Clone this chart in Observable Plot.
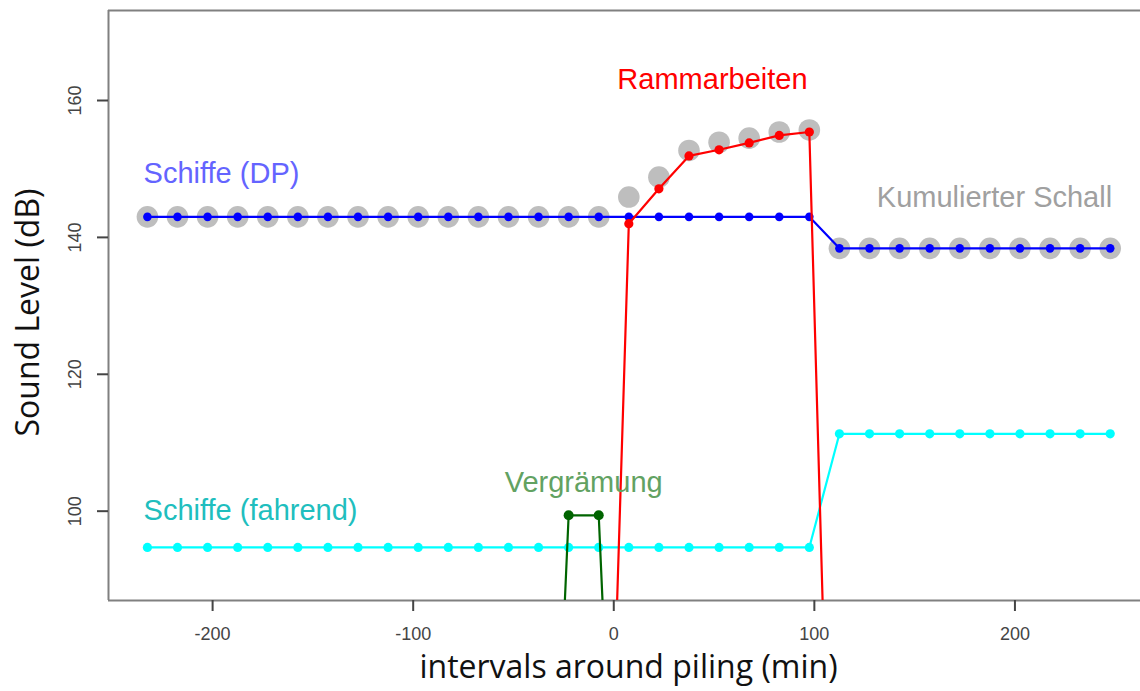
<!DOCTYPE html>
<html>
<head>
<meta charset="utf-8">
<script src="https://cdn.jsdelivr.net/npm/d3@7"></script>
<script src="https://cdn.jsdelivr.net/npm/@observablehq/plot@0.6"></script>
<style>
  html, body { margin: 0; padding: 0; background: #fff; }
  #chart svg { display: block; }
</style>
</head>
<body>
<div id="chart"></div>
<script>
// ---- data ----
const minutes = [-232.5, -217.5, -202.5, -187.5, -172.5, -157.5, -142.5, -127.5, -112.5, -97.5,
  -82.5, -67.5, -52.5, -37.5, -22.5, -7.5, 7.5, 22.5, 37.5, 52.5, 67.5, 82.5, 97.5,
  112.5, 127.5, 142.5, 157.5, 172.5, 187.5, 202.5, 217.5, 232.5, 247.5];

const dpLevel = [143, 143, 143, 143, 143, 143, 143, 143, 143, 143,
  143, 143, 143, 143, 143, 143, 143, 143, 143, 143, 143, 143, 143,
  138.4, 138.4, 138.4, 138.4, 138.4, 138.4, 138.4, 138.4, 138.4, 138.4];

const movingLevel = [94.7, 94.7, 94.7, 94.7, 94.7, 94.7, 94.7, 94.7, 94.7, 94.7,
  94.7, 94.7, 94.7, 94.7, 94.7, 94.7, 94.7, 94.7, 94.7, 94.7, 94.7, 94.7, 94.7,
  111.3, 111.3, 111.3, 111.3, 111.3, 111.3, 111.3, 111.3, 111.3, 111.3];

const cumulativeLevel = [143, 143, 143, 143, 143, 143, 143, 143, 143, 143,
  143, 143, 143, 143, 143, 143, 145.9, 148.8, 152.7, 153.9, 154.5, 155.4, 155.7,
  138.4, 138.4, 138.4, 138.4, 138.4, 138.4, 138.4, 138.4, 138.4, 138.4];

const pilingMinutes = [-7.5, 7.5, 22.5, 37.5, 52.5, 67.5, 82.5, 97.5, 112.5];
const pilingLevel   = [0, 142, 147.1, 151.9, 152.8, 153.8, 154.9, 155.4, 0];

const deterMinutes = [-37.5, -22.5, -7.5, 7.5];
const deterLevel   = [0, 99.4, 99.4, 0];

const labelText   = ["Schiffe (DP)", "Schiffe (fahrend)", "Vergrämung", "Rammarbeiten", "Kumulierter Schall"];
const labelMinute = [-234.4, -234.4, -15, 49.2, 189.8];
const labelLevel  = [149.3, 100.0, 104.1, 163.1, 145.8];
const labelAnchor = ["start", "start", "middle", "middle", "middle"];
const labelColor  = ["#6464FF", "#20BEBE", "#62A262", "#FF0000", "#A0A0A0"];

const xTicks = [-200, -100, 0, 100, 200];
const yTicks = [100, 120, 140, 160];
const xDomain = [-251.9, 262.6];
const yDomain = [86.95, 173.15];

const labels = labelText.map((t, i) => ({text: t, minute: labelMinute[i], level: labelLevel[i], anchor: labelAnchor[i], color: labelColor[i]}));

const axisGray = "#808080";
const sans = "'Liberation Sans', Arial, Helvetica, sans-serif";
const titleFont = "'Open Sans', 'Noto Sans', sans-serif";
const fmt = d => String(d);

const chart = Plot.plot({
  width: 1140,
  height: 691,
  marginLeft: 108,
  marginRight: 0,
  marginTop: 10,
  marginBottom: 91,
  x: {domain: xDomain},
  y: {domain: yDomain},
  style: {fontFamily: sans, background: "#fff", overflow: "visible"},
  marks: [
    // frame (top, left, bottom)
    Plot.ruleY([yDomain[1]], {stroke: axisGray, strokeWidth: 2}),
    Plot.ruleY([yDomain[0]], {stroke: axisGray, strokeWidth: 2}),
    Plot.ruleX([xDomain[0]], {stroke: axisGray, strokeWidth: 2}),
    Plot.axisX({ticks: xTicks, tickFormat: fmt, tickSize: 11, tickPadding: 16, fontSize: 18, label: null, color: "#444", strokeWidth: 2}),
    Plot.axisY({ticks: yTicks, tickFormat: fmt, tickSize: 11, tickPadding: 17, tickRotate: -90, fontSize: 18, label: null, color: "#444", strokeWidth: 2}),
    // cumulative
    Plot.dot(cumulativeLevel, {x: minutes, y: cumulativeLevel, r: 10.8, fill: "#BEBEBE", stroke: null}),
    // ships DP
    Plot.line(dpLevel, {x: minutes, y: dpLevel, stroke: "#0000FF", strokeWidth: 2.2}),
    Plot.dot(dpLevel, {x: minutes, y: dpLevel, r: 4.3, fill: "#0000FF"}),
    // moving ships
    Plot.line(movingLevel, {x: minutes, y: movingLevel, stroke: "#00FFFF", strokeWidth: 2.2}),
    Plot.dot(movingLevel, {x: minutes, y: movingLevel, r: 4.6, fill: "#00FFFF"}),
    // piling
    Plot.line(pilingLevel, {x: pilingMinutes, y: pilingLevel, stroke: "#FF0000", strokeWidth: 2.2, clip: true}),
    Plot.dot(pilingLevel, {x: pilingMinutes, y: pilingLevel, r: 4.6, fill: "#FF0000", clip: true}),
    // deterrence
    Plot.line(deterLevel, {x: deterMinutes, y: deterLevel, stroke: "#006400", strokeWidth: 2.2, clip: true}),
    Plot.dot(deterLevel, {x: deterMinutes, y: deterLevel, r: 5, fill: "#006400", clip: true}),
    // series labels
    Plot.text(labels, {x: "minute", y: "level", text: "text", textAnchor: "start", fill: "color", fontSize: 29,
      filter: d => d.anchor === "start"}),
    Plot.text(labels, {x: "minute", y: "level", text: "text", textAnchor: "middle", fill: "color", fontSize: 29,
      filter: d => d.anchor === "middle"}),
    // axis titles
    Plot.text(["intervals around piling (min)"], {frameAnchor: "bottom", textAnchor: "middle", dy: 77, dx: 4, fontSize: 32, fontFamily: titleFont, fill: "#111"}),
    Plot.text(["Sound Level (dB)"], {frameAnchor: "left", textAnchor: "middle", rotate: -90, dx: -80, dy: 7, fontSize: 32, fontFamily: titleFont, fill: "#111"})
  ]
});
document.getElementById("chart").appendChild(chart);
</script>
</body>
</html>
